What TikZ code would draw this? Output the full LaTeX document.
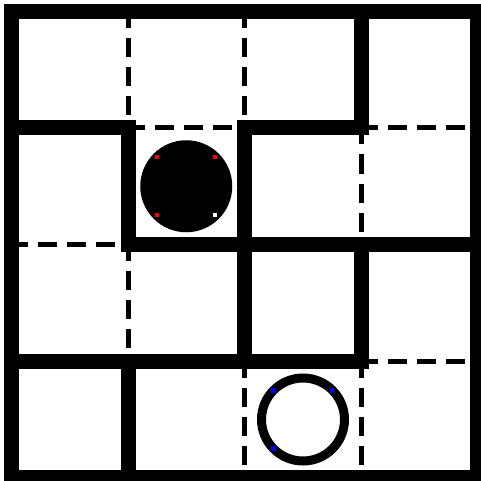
\documentclass[tikz,border=0pt]{standalone}
\begin{document}
\begin{tikzpicture}[x=1pt,y=-1pt,
  wall/.style={line width=15pt, line cap=rect},
  opening/.style={line width=5pt, dash pattern=on 19pt off 10pt, dash phase=2.5pt},
  dotmark/.style={inner sep=0pt, minimum size=4.5pt, draw=none}
]
\useasboundingbox (0,0) rectangle (481,481);
\fill[white] (0,0) rectangle (481,481);
% grid coordinates
\def\Xa{11.5}\def\Xb{128}\def\Xc{244.5}\def\Xd{361}\def\Xe{477.5}
% dashed openings
\draw[opening] (\Xb,\Xa) -- (\Xb,\Xb);
\draw[opening] (\Xc,\Xa) -- (\Xc,\Xb);
\draw[opening] (\Xb,\Xb) -- (\Xc,\Xb);
\draw[opening] (\Xd,\Xb) -- (\Xe,\Xb);
\draw[opening] (\Xd,\Xb) -- (\Xd,\Xc);
\draw[opening] (\Xa,\Xc) -- (\Xb,\Xc);
\draw[opening] (\Xb,\Xc) -- (\Xb,\Xd);
\draw[opening] (\Xd,\Xd) -- (\Xe,\Xd);
\draw[opening] (\Xc,\Xd) -- (\Xc,\Xe);
\draw[opening] (\Xd,\Xd) -- (\Xd,\Xe);
% walls
\draw[wall] (\Xa,\Xa) rectangle (\Xe,\Xe);
\draw[wall] (\Xa,\Xb) -- (\Xb,\Xb);
\draw[wall] (\Xc,\Xb) -- (\Xd,\Xb);
\draw[wall] (\Xd,\Xa) -- (\Xd,\Xb);
\draw[wall] (\Xb,\Xb) -- (\Xb,\Xc) -- (\Xe,\Xc);
\draw[wall] (\Xc,\Xb) -- (\Xc,\Xd);
\draw[wall] (\Xa,\Xd) -- (\Xd,\Xd);
\draw[wall] (\Xd,\Xc) -- (\Xd,\Xd);
\draw[wall] (\Xb,\Xd) -- (\Xb,\Xe);
% filled disc
\fill[black] (186.25,186.25) circle (46);
\node[dotmark, fill=red] (r1) at (157,157) {};
\node[dotmark, fill=red] (r2) at (215,157) {};
\node[dotmark, fill=red] (r3) at (157,215) {};
\node[dotmark, fill=white] (w1) at (215,215) {};
% ring
\draw[black, line width=9pt] (303,419.5) circle (41.5);
\node[dotmark, fill=blue] (b1) at (273.5,390.5) {};
\node[dotmark, fill=blue] (b2) at (332,390.5) {};
\node[dotmark, fill=blue] (b3) at (273.5,448.5) {};
\end{tikzpicture}
\end{document}
